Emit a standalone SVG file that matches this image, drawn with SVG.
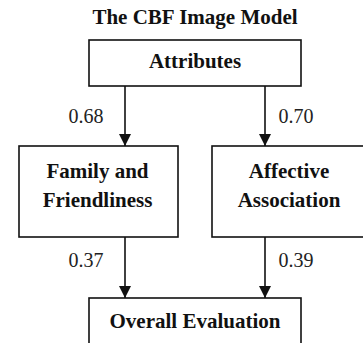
<svg xmlns="http://www.w3.org/2000/svg" width="363" height="343" viewBox="0 0 363 343">
<style>
.box{fill:#fff;stroke:#111;stroke-width:1.6}
.t{font-family:'Liberation Serif','DejaVu Serif',serif;font-weight:bold;font-size:21px;fill:#111;text-anchor:middle}
.n{font-family:'Liberation Serif','DejaVu Serif',serif;font-size:20px;fill:#222;text-anchor:middle}
.e{stroke:#111;stroke-width:1.6;fill:none;marker-end:url(#ah)}
</style>
<defs>
<marker id="ah" markerUnits="userSpaceOnUse" markerWidth="12" markerHeight="12" refX="12" refY="6" orient="auto">
<path d="M0,0 L12,6 L0,12 Z" fill="#111"/>
</marker>
</defs>
<rect width="363" height="343" fill="#fff"/>
<text class="t" x="195" y="24">The CBF Image Model</text>
<g id="edges">
<line class="e" x1="125" y1="86" x2="125" y2="146"/>
<line class="e" x1="265" y1="86" x2="265" y2="146"/>
<line class="e" x1="125" y1="237" x2="125" y2="298"/>
<line class="e" x1="265" y1="237" x2="265" y2="298"/>
<text class="n" x="86" y="123">0.68</text>
<text class="n" x="296" y="123">0.70</text>
<text class="n" x="86" y="267">0.37</text>
<text class="n" x="296" y="267">0.39</text>
</g>
<g id="attributes">
<rect class="box" x="89" y="40" width="212" height="46"/>
<text class="t" x="195" y="68">Attributes</text>
</g>
<g id="family">
<rect class="box" x="19" y="146" width="159" height="91"/>
<text class="t" x="97.5" y="178">Family and</text>
<text class="t" x="97.5" y="207">Friendliness</text>
</g>
<g id="affective">
<rect class="box" x="212" y="146" width="152" height="91"/>
<text class="t" x="289" y="178">Affective</text>
<text class="t" x="289" y="207">Association</text>
</g>
<g id="overall">
<rect class="box" x="89" y="298" width="212" height="50"/>
<text class="t" x="195" y="328">Overall Evaluation</text>
</g>
</svg>
